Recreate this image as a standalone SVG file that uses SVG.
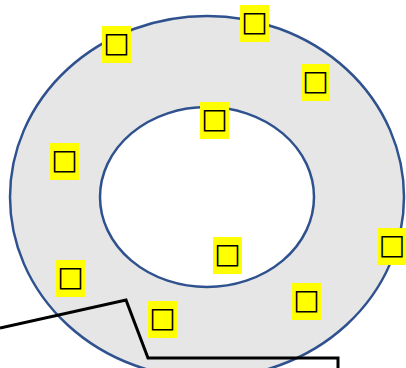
<svg xmlns="http://www.w3.org/2000/svg" width="406" height="368" viewBox="0 0 406 368">
<style>
.hl{fill:#ffff00}
.t{font-family:"DejaVu Sans",sans-serif;font-size:28px;fill:#000;text-anchor:middle}
</style>
<rect width="406" height="368" fill="#fff"/>
<g id="ring">
<path d="M10,197a197,181 0 1,0 394,0a197,181 0 1,0 -394,0Z M100,197a107,90 0 1,0 214,0a107,90 0 1,0 -214,0Z" fill="#e6e6e6" fill-rule="evenodd" stroke="#2f528f" stroke-width="2.5"/>
</g>
<g id="connectors">
<polyline points="0,328 126,300 148,358 338,358 338,370" fill="none" stroke="#000" stroke-width="3"/>
</g>
<g id="n1"><rect class="hl" x="102" y="26" width="29" height="37"/><text class="t" x="116.5" y="52">□</text></g>
<g id="n2"><rect class="hl" x="240" y="5" width="29" height="37"/><text class="t" x="254.5" y="31">□</text></g>
<g id="n3"><rect class="hl" x="301" y="64" width="29" height="37"/><text class="t" x="315.5" y="90">□</text></g>
<g id="n4"><rect class="hl" x="200" y="102" width="29" height="37"/><text class="t" x="214.5" y="128">□</text></g>
<g id="n5"><rect class="hl" x="50" y="143" width="29" height="37"/><text class="t" x="64.5" y="169">□</text></g>
<g id="n6"><rect class="hl" x="213" y="237" width="29" height="37"/><text class="t" x="227.5" y="263">□</text></g>
<g id="n7"><rect class="hl" x="378" y="228" width="28" height="37"/><text class="t" x="392" y="254">□</text></g>
<g id="n8"><rect class="hl" x="56" y="260" width="29" height="37"/><text class="t" x="70.5" y="286">□</text></g>
<g id="n9"><rect class="hl" x="148" y="301" width="29" height="37"/><text class="t" x="162.5" y="327">□</text></g>
<g id="n10"><rect class="hl" x="292" y="283" width="29" height="37"/><text class="t" x="306.5" y="309">□</text></g>
</svg>
